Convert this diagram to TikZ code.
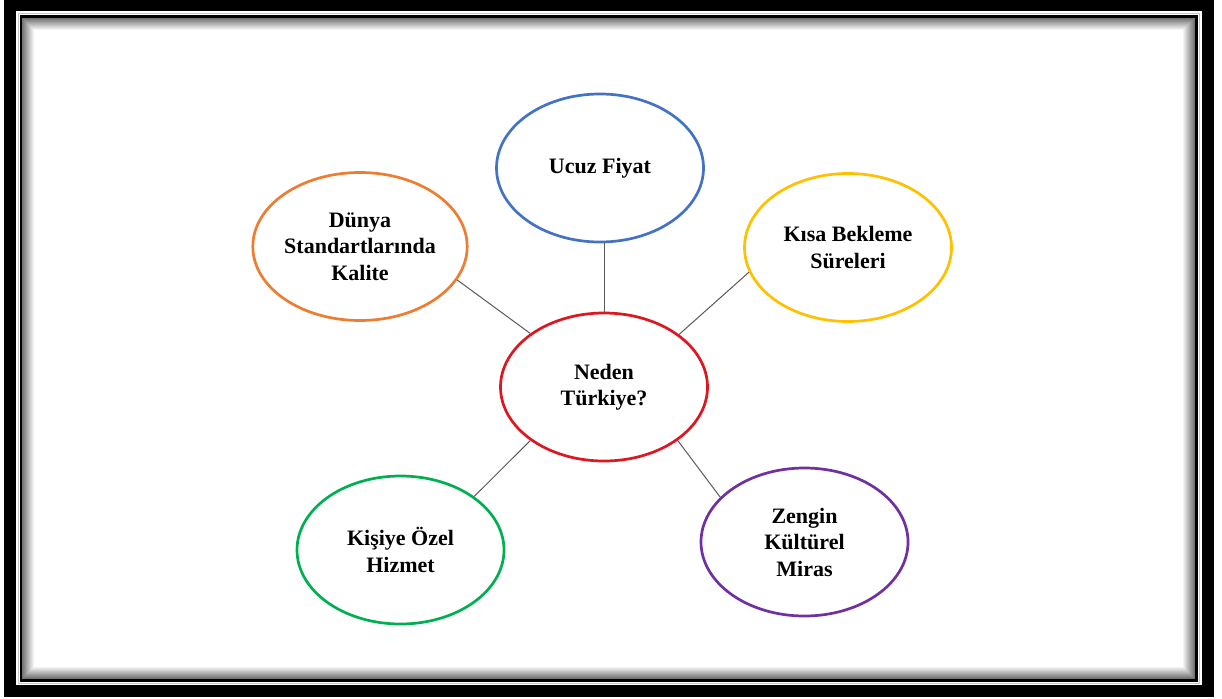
\documentclass[tikz,border=0pt]{standalone}
\usepackage{fontspec}
\setmainfont{Liberation Serif}
\usetikzlibrary{shapes.geometric}
\definecolor{cblue}{RGB}{68,114,196}
\definecolor{corange}{RGB}{237,125,49}
\definecolor{cyellow}{RGB}{255,192,0}
\definecolor{cred}{RGB}{222,22,32}
\definecolor{cgreen}{RGB}{0,176,80}
\definecolor{cpurple}{RGB}{112,48,160}
\definecolor{cline}{RGB}{90,90,90}
\begin{document}
\begin{tikzpicture}[x=1pt,y=-1pt,
  bub/.style={ellipse, draw=#1, line width=2.7pt, fill=white,
    minimum width=207pt, minimum height=148pt, inner sep=0pt,
    align=center, text=black,
    font=\bfseries\fontsize{22}{26.5}\selectfont},
  conn/.style={draw=cline, line width=1pt}]
\useasboundingbox (0,0) rectangle (1222,698);
\fill[white] (0,0) rectangle (1222,698);
% frame
\draw[black, line width=11.5pt] (9.75,5.5) rectangle (1208,691);
\draw[gray!45, line width=0.6pt] (18.2,13.6) rectangle (1199.6,683.2);
\draw[black, line width=2.6pt] (21,16.5) rectangle (1196.5,680.5);
\foreach \i in {1,...,12}{
  \pgfmathsetmacro\op{0.6*(1-\i/13)}
  \draw[black, opacity=\op, line width=1.05pt] (21.8+\i,17.3+\i) rectangle (1195.7-\i,679.7-\i);
}
% nodes
\node[bub=cred]    (red)    at (604,387)   {Neden\\Türkiye?};
\node[bub=cblue]   (blue)   at (600,168)   {Ucuz Fiyat};
\node[bub=corange] (orange) at (360,246.5) {Dünya\\Standartlarında\\Kalite};
\node[bub=cyellow] (yellow) at (848,247.5) {Kısa Bekleme\\Süreleri};
\node[bub=cgreen]  (green)  at (400.5,550) {Kişiye Özel\\Hizmet};
\node[bub=cpurple] (purple) at (804.5,542) {Zengin\\Kültürel\\Miras};
% connectors
\draw[conn] (red.north) -- (red.north |- blue.south);
\draw[conn] (red.144.9) -- (orange.-19.3);
\draw[conn] (red.35.5) -- (yellow.194.6);
\draw[conn] (red.216) -- (green.36);
\draw[conn] (red.-36.6) -- (purple.152);
\end{tikzpicture}
\end{document}
